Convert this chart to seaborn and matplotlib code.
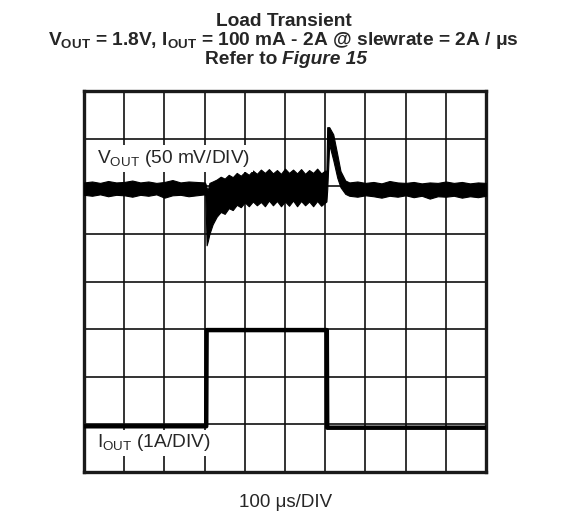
import numpy as np
import matplotlib
matplotlib.use('Agg')
import matplotlib.pyplot as plt
import seaborn as sns

# scope screen: 10 x 8 divisions, values in divisions
x_divs = list(range(0, 11))
y_divs = list(range(0, 9))

# V_OUT trace, drawn as a thick noisy band (upper / lower envelope)
vout_t = [0.0, 0.2, 0.4, 0.6, 0.8, 1.0, 1.2, 1.4, 1.6, 1.8, 2.0, 2.2, 2.4, 2.6, 2.8, 3.0,
          3.02, 3.05, 3.08, 3.12, 3.2,
          3.3, 3.4, 3.5, 3.6, 3.7, 3.8, 3.9, 4.0, 4.1, 4.2, 4.3, 4.4, 4.5, 4.6,
          4.7, 4.8, 4.9, 5.0, 5.1, 5.2, 5.3, 5.4, 5.5, 5.6, 5.7, 5.8, 5.9, 6.0,
          6.03, 6.05, 6.1, 6.2, 6.3, 6.38, 6.5,
          6.6, 6.8, 7.0, 7.2, 7.4, 7.6, 7.8, 8.0, 8.2, 8.4, 8.6, 8.8, 9.0, 9.2,
          9.4, 9.6, 9.8, 10.0]
vout_hi = [6.08, 6.10, 6.07, 6.11, 6.08, 6.09, 6.12, 6.08, 6.10, 6.07, 6.09, 6.13, 6.08, 6.10, 6.09, 6.08,
           6.06, 5.97, 5.92, 6.07, 6.10,
           6.14, 6.20, 6.16, 6.24, 6.19, 6.28, 6.22, 6.30, 6.24, 6.33, 6.26, 6.35, 6.28, 6.36,
           6.27, 6.34, 6.26, 6.37, 6.28, 6.35, 6.27, 6.36, 6.26, 6.34, 6.28, 6.37, 6.27, 6.33,
           6.32, 7.24, 7.24, 7.09, 6.67, 6.32, 6.12,
           6.08, 6.10, 6.07, 6.09, 6.06, 6.11, 6.08, 6.07, 6.09, 6.06, 6.08, 6.07, 6.10, 6.07,
           6.09, 6.06, 6.08, 6.07]
vout_lo = [5.82, 5.80, 5.83, 5.79, 5.82, 5.81, 5.78, 5.82, 5.80, 5.83, 5.76, 5.81, 5.82, 5.79, 5.81, 5.83,
           5.80, 4.76, 4.85, 5.00, 5.20,
           5.36, 5.46, 5.42, 5.54, 5.50, 5.61, 5.56, 5.66, 5.58, 5.68, 5.60, 5.67, 5.58, 5.70,
           5.60, 5.69, 5.58, 5.68, 5.59, 5.70, 5.58, 5.69, 5.60, 5.68, 5.58, 5.69, 5.59, 5.66,
           5.68, 5.93, 6.88, 6.55, 6.18, 5.98, 5.84,
           5.80, 5.78, 5.81, 5.79, 5.76, 5.80, 5.78, 5.81, 5.77, 5.80, 5.74, 5.79, 5.78, 5.80,
           5.76, 5.79, 5.77, 5.80]

# I_OUT trace
iout_t = [0.0, 3.04, 3.05, 6.04, 6.05, 10.0]
iout_v = [0.96, 0.96, 2.98, 2.98, 0.93, 0.93]

sns.set_style('white')
plt.rcParams['font.family'] = ['Liberation Sans', 'DejaVu Sans']
plt.rcParams['mathtext.fontset'] = 'custom'
plt.rcParams['mathtext.rm'] = 'Liberation Sans'
plt.rcParams['mathtext.bf'] = 'Liberation Sans:bold'

fig = plt.figure(figsize=(5.67, 5.22), dpi=100)
ax = fig.add_axes([84 / 567, 1 - 472 / 522, 402 / 567, 381 / 522])

ax.fill_between(vout_t, vout_lo, vout_hi, color='black', lw=0.8, zorder=3)
sns.lineplot(x=iout_t, y=iout_v, ax=ax, color='black', lw=3.2,
             estimator=None, sort=False, zorder=3)

ax.set_xlim(0, 10)
ax.set_ylim(0, 8)
ax.set_xticks(x_divs)
ax.set_yticks(y_divs)
ax.set_xticklabels([])
ax.set_yticklabels([])
ax.tick_params(length=0)
ax.grid(True, color='#111111', lw=1.2, zorder=0)
ax.set_axisbelow(True)
for s in ax.spines.values():
    s.set_linewidth(2.4)
    s.set_color('#1a1a1a')

ax.text(0.32, 6.49, r'V$_{\mathrm{OUT}}$ (50 mV/DIV)', fontsize=13.8, va='baseline',
        ha='left', zorder=4,
        bbox=dict(facecolor='white', edgecolor='none', pad=2.0))
ax.text(0.32, 0.52, r'I$_{\mathrm{OUT}}$ (1A/DIV)', fontsize=13.8, va='baseline',
        ha='left', zorder=4,
        bbox=dict(facecolor='white', edgecolor='none', pad=2.0))

ax.set_xlabel('')
fig.text(286 / 567, 1 - 507 / 522, '100 \u03bcs/DIV', fontsize=13.5, ha='center', va='baseline')

# title, three lines
fig.text(0.5, 1 - 26 / 522, 'Load Transient', fontsize=13.8, fontweight='bold',
         ha='center', va='baseline')
fig.text(0.5, 1 - 45 / 522,
         'V$_{\\mathbf{OUT}}$ = 1.8V, I$_{\\mathbf{OUT}}$ = 100 mA - 2A @ slewrate = 2A / \u03bcs',
         fontsize=13.8, fontweight='bold', ha='center', va='baseline')
fig.text(277 / 567, 1 - 64 / 522, 'Refer to', fontsize=13.8, fontweight='bold',
         ha='right', va='baseline')
fig.text(282 / 567, 1 - 64 / 522, 'Figure 15', fontsize=13.8, fontweight='bold',
         fontstyle='italic', ha='left', va='baseline')

fig.savefig('out.png', dpi=100)
